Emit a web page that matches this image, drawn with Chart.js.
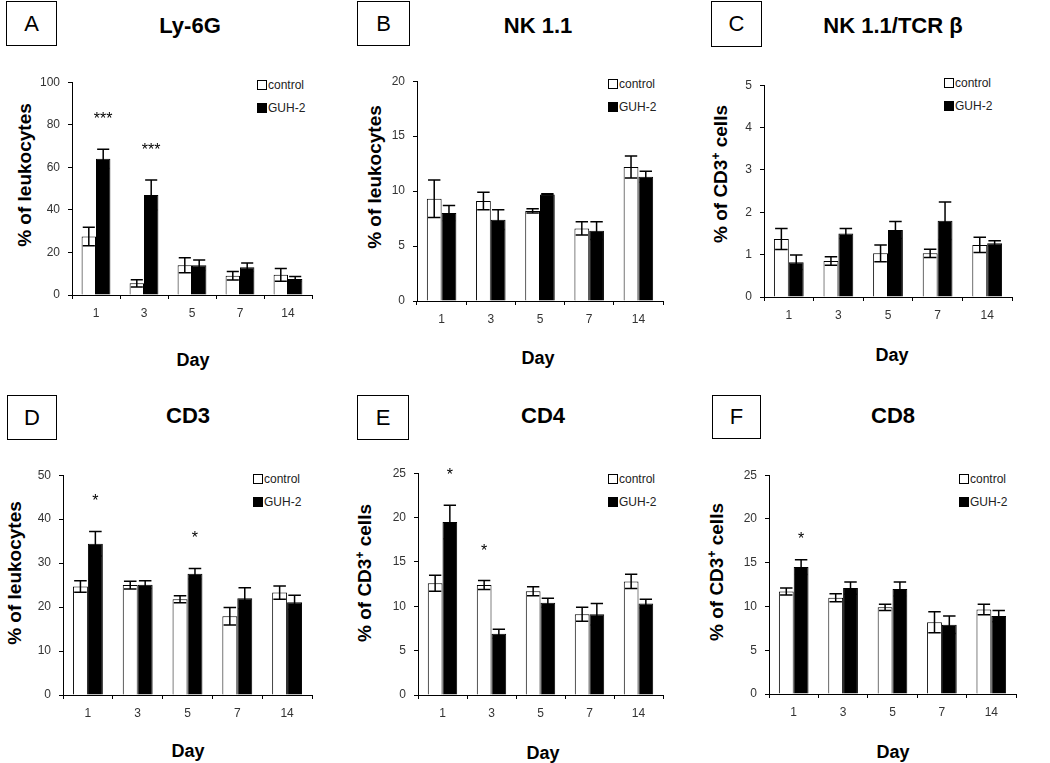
<!DOCTYPE html>
<html><head><meta charset="utf-8">
<script src="https://cdn.jsdelivr.net/npm/chart.js@4/dist/chart.umd.min.js"></script>
<style>
body{margin:0;background:#fff;width:1050px;height:763px;position:relative;overflow:hidden;font-family:"Liberation Sans",Arial,sans-serif;color:#000;}
.box{position:absolute;border:1.5px solid #000;box-sizing:border-box;display:flex;align-items:center;justify-content:center;font-size:22px;}
.title{position:absolute;transform:translate(-50%,-50%);font-weight:bold;font-size:22px;white-space:nowrap;}
.ylab{position:absolute;transform:translate(-50%,-50%) rotate(-90deg);font-weight:bold;font-size:19px;white-space:nowrap;}
.ylab sup{font-size:12px;vertical-align:7px;line-height:0;}
.xlab{position:absolute;transform:translate(-50%,-50%);font-weight:bold;font-size:18px;white-space:nowrap;}
.leg{position:absolute;font-size:12px;line-height:14px;white-space:nowrap;color:#222;transform:translateY(-50%);}
.sw{display:inline-block;width:8px;height:8px;border:1px solid #000;vertical-align:-1px;margin-right:1px;}
canvas{position:absolute;}
</style></head><body>
<script>
// ---------- data ----------
const days = ['1', '3', '5', '7', '14'];
const seriesNames = ['control', 'GUH-2'];

// A: Ly-6G (% of leukocytes)
const ly6gControl = [27.5, 5.5, 14, 9, 9.5];
const ly6gControlErr = [4.3, 1.7, 3.5, 2, 3];
const ly6gGuh = [64, 47, 14, 13, 7.5];
const ly6gGuhErr = [4.5, 7, 2.5, 2, 1.2];
const ly6gStars = ['***', '***', '', '', ''];

// B: NK 1.1 (% of leukocytes)
const nkControl = [9.3, 9.1, 8.2, 6.6, 12.2];
const nkControlErr = [1.7, 0.8, 0.2, 0.6, 1.0];
const nkGuh = [8.0, 7.4, 9.7, 6.4, 11.3];
const nkGuhErr = [0.7, 0.9, 0.05, 0.8, 0.5];

// C: NK 1.1/TCR beta (% of CD3+ cells)
const nktControl = [1.37, 0.85, 1.03, 1.03, 1.23];
const nktControlErr = [0.25, 0.1, 0.2, 0.1, 0.18];
const nktGuh = [0.82, 1.5, 1.58, 1.8, 1.27];
const nktGuhErr = [0.17, 0.12, 0.2, 0.44, 0.06];

// D: CD3 (% of leukocytes)
const cd3Control = [24.7, 25.0, 21.8, 17.9, 23.3];
const cd3ControlErr = [1.3, 0.9, 0.8, 2.0, 1.5];
const cd3Guh = [34.4, 25.1, 27.6, 22.0, 21.1];
const cd3GuhErr = [2.8, 0.9, 1.2, 2.4, 1.6];
const cd3Stars = ['*', '', '*', '', ''];

// E: CD4 (% of CD3+ cells)
const cd4Control = [12.6, 12.4, 11.7, 9.1, 12.8];
const cd4ControlErr = [0.9, 0.5, 0.5, 0.8, 0.8];
const cd4Guh = [19.5, 6.9, 10.4, 9.1, 10.3];
const cd4GuhErr = [1.9, 0.5, 0.5, 1.2, 0.5];
const cd4StarsGuh = ['*', '', '', '', ''];
const cd4StarsControl = ['', '*', '', '', ''];

// F: CD8 (% of CD3+ cells)
const cd8Control = [11.7, 11.0, 9.9, 8.2, 9.65];
const cd8ControlErr = [0.4, 0.45, 0.35, 1.2, 0.6];
const cd8Guh = [14.5, 12.1, 12.0, 7.9, 8.9];
const cd8GuhErr = [0.85, 0.7, 0.8, 1.0, 0.65];
const cd8Stars = ['*', '', '', '', ''];

const yTicksA = {max: 100, step: 20};
const yTicksB = {max: 20, step: 5};
const yTicksC = {max: 5, step: 1};
const yTicksD = {max: 50, step: 10};
const yTicksE = {max: 25, step: 5};
const yTicksF = {max: 25, step: 5};

// ---------- layout ----------
const panels = [
  {letter:'A', title:'Ly-6G', ylabel:'% of leukocytes', ctrl:ly6gControl, ctrlErr:ly6gControlErr, guh:ly6gGuh, guhErr:ly6gGuhErr, starsGuh:ly6gStars, starsCtrl:null, ticks:yTicksA,
   area:{l:72,r:312,t:77,b:295}, box:{x:6,y:1,w:51,h:45}, tp:{x:190,y:26}, yl:{x:25,y:175}, xl:{x:193,y:360}, lg:{x:257,y:85}, starOff:34},
  {letter:'B', title:'NK 1.1', ylabel:'% of leukocytes', ctrl:nkControl, ctrlErr:nkControlErr, guh:nkGuh, guhErr:nkGuhErr, starsGuh:null, starsCtrl:null, ticks:yTicksB,
   area:{l:417,r:663,t:76,b:301}, box:{x:357,y:1,w:53,h:45}, tp:{x:538,y:26}, yl:{x:375,y:177}, xl:{x:538,y:358}, lg:{x:608,y:84}, starOff:34},
  {letter:'C', title:'NK 1.1/TCR β', ylabel:'% of CD3<sup>+</sup> cells', ctrl:nktControl, ctrlErr:nktControlErr, guh:nktGuh, guhErr:nktGuhErr, starsGuh:null, starsCtrl:null, ticks:yTicksC,
   area:{l:764,r:1012,t:80,b:297}, box:{x:711,y:1,w:51,h:46}, tp:{x:893,y:26}, yl:{x:721,y:174}, xl:{x:892,y:355}, lg:{x:944,y:83}, starOff:34},
  {letter:'D', title:'CD3', ylabel:'% of leukocytes', ctrl:cd3Control, ctrlErr:cd3ControlErr, guh:cd3Guh, guhErr:cd3GuhErr, starsGuh:cd3Stars, starsCtrl:null, ticks:yTicksD,
   area:{l:63,r:312,t:470,b:695}, box:{x:7,y:395,w:50,h:45}, tp:{x:188,y:416}, yl:{x:15,y:573}, xl:{x:188,y:751}, lg:{x:253,y:479}, starOff:34},
  {letter:'E', title:'CD4', ylabel:'% of CD3<sup>+</sup> cells', ctrl:cd4Control, ctrlErr:cd4ControlErr, guh:cd4Guh, guhErr:cd4GuhErr, starsGuh:cd4StarsGuh, starsCtrl:cd4StarsControl, ticks:yTicksE,
   area:{l:418,r:663,t:468,b:695}, box:{x:357,y:395,w:52,h:45}, tp:{x:543,y:416}, yl:{x:365,y:573}, xl:{x:543,y:753}, lg:{x:608,y:479}, starOff:34},
  {letter:'F', title:'CD8', ylabel:'% of CD3<sup>+</sup> cells', ctrl:cd8Control, ctrlErr:cd8ControlErr, guh:cd8Guh, guhErr:cd8GuhErr, starsGuh:cd8Stars, starsCtrl:null, ticks:yTicksF,
   area:{l:769,r:1016,t:470,b:694}, box:{x:712,y:395,w:49,h:44}, tp:{x:893,y:416}, yl:{x:717,y:572}, xl:{x:893,y:752}, lg:{x:959,y:479}, starOff:25}
];

const YW = 40, XH = 30, TP = 10, RP = 6;

const errPlugin = {
  id: 'errbars',
  afterDatasetsDraw(chart) {
    const ctx = chart.ctx, ys = chart.scales.y;
    const off = chart.options.plugins.errbars.starOff;
    chart.data.datasets.forEach((ds, di) => {
      const meta = chart.getDatasetMeta(di);
      meta.data.forEach((bar, i) => {
        const v = ds.data[i], e = ds.errors[i];
        const x = bar.x, half = bar.width * 0.42;
        const yt = ys.getPixelForValue(v + e), yb = ys.getPixelForValue(v - e);
        ctx.save();
        ctx.strokeStyle = '#000'; ctx.lineWidth = 1.5;
        ctx.beginPath();
        ctx.moveTo(x, yt); ctx.lineTo(x, yb);
        ctx.moveTo(x - half, yt); ctx.lineTo(x + half, yt);
        ctx.moveTo(x - half, yb); ctx.lineTo(x + half, yb);
        ctx.stroke();
        const s = ds.stars && ds.stars[i];
        if (s) {
          ctx.font = '16px "Liberation Sans", Arial, sans-serif';
          ctx.fillStyle = '#000';
          ctx.textAlign = 'center';
          ctx.textBaseline = 'alphabetic';
          const m = ctx.measureText(s);
          const cy = yt - off;
          const base = cy + (m.actualBoundingBoxAscent - m.actualBoundingBoxDescent) / 2;
          ctx.fillText(s, x, base);
        }
        ctx.restore();
      });
    });
  }
};

function addEl(cls, html, style) {
  const d = document.createElement('div');
  d.className = cls; d.innerHTML = html;
  Object.assign(d.style, style);
  document.body.appendChild(d);
  return d;
}

panels.forEach(p => {
  addEl('box', p.letter, {left: p.box.x + 'px', top: p.box.y + 'px', width: p.box.w + 'px', height: p.box.h + 'px'});
  addEl('title', p.title, {left: p.tp.x + 'px', top: p.tp.y + 'px'});
  addEl('ylab', p.ylabel, {left: p.yl.x + 'px', top: p.yl.y + 'px'});
  addEl('xlab', 'Day', {left: p.xl.x + 'px', top: p.xl.y + 'px'});
  addEl('leg', '<span class="sw" style="background:#fff"></span>' + seriesNames[0], {left: p.lg.x + 'px', top: p.lg.y + 'px'});
  addEl('leg', '<span class="sw" style="background:#000"></span>' + seriesNames[1], {left: p.lg.x + 'px', top: (p.lg.y + 23) + 'px'});

  const a = p.area;
  const cv = document.createElement('canvas');
  const W = YW + (a.r - a.l) + RP, H = TP + (a.b - a.t) + XH;
  cv.width = W; cv.height = H;
  cv.style.left = (a.l - YW) + 'px'; cv.style.top = (a.t - TP) + 'px';
  cv.style.width = W + 'px'; cv.style.height = H + 'px';
  document.body.appendChild(cv);

  const tickFont = {family: '"Liberation Sans", Arial, sans-serif', size: 12};
  new Chart(cv, {
    type: 'bar',
    data: {
      labels: days,
      datasets: [
        {label: seriesNames[0], data: p.ctrl, errors: p.ctrlErr, stars: p.starsCtrl, backgroundColor: '#fff', borderColor: '#000', borderWidth: 1},
        {label: seriesNames[1], data: p.guh, errors: p.guhErr, stars: p.starsGuh, backgroundColor: '#000', borderColor: '#000', borderWidth: 1}
      ]
    },
    options: {
      responsive: false, animation: false, devicePixelRatio: 1,
      layout: {padding: {left: 0, right: RP, top: TP, bottom: 0}},
      datasets: {bar: {categoryPercentage: 0.6, barPercentage: 1.0}},
      plugins: {legend: {display: false}, tooltip: {enabled: false}, errbars: {starOff: p.starOff}},
      scales: {
        x: {
          grid: {display: true, drawOnChartArea: false, drawTicks: true, tickLength: 4, color: '#000', offset: true},
          border: {color: '#000', width: 1},
          ticks: {font: tickFont, color: '#333', padding: 7, maxRotation: 0},
          afterFit(s) { s.height = XH; }
        },
        y: {
          min: 0, max: p.ticks.max,
          grid: {display: true, drawOnChartArea: false, drawTicks: true, tickLength: 4, color: '#000'},
          border: {color: '#000', width: 1},
          ticks: {stepSize: p.ticks.step, font: tickFont, color: '#333', padding: 8},
          afterFit(s) { s.width = YW; }
        }
      }
    },
    plugins: [errPlugin]
  });
});
</script>
</body></html>
